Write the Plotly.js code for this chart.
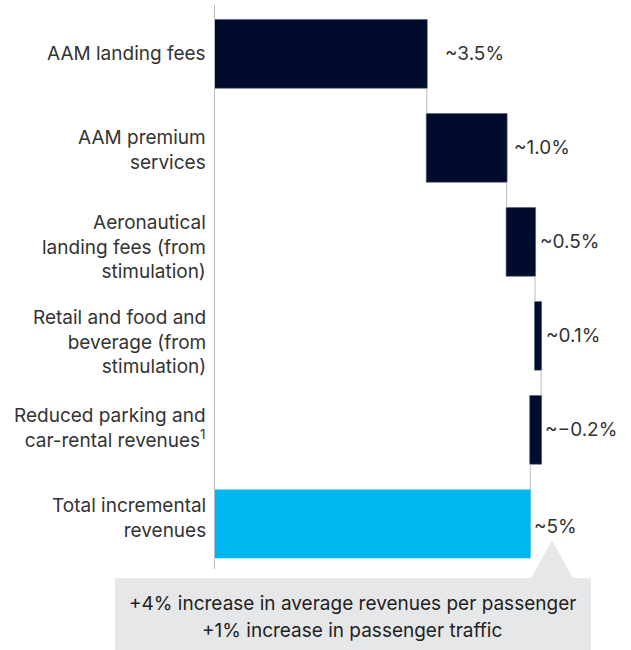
<!DOCTYPE html>
<html>
<head>
<meta charset="utf-8">
<script src="https://cdn.plot.ly/plotly-3.0.1.min.js"></script>
<style>
  html, body { margin: 0; padding: 0; background: #ffffff; }
  #chart { width: 631px; height: 650px; }
</style>
</head>
<body>
<div id="chart"></div>
<script>
// ---- data ----
const categories = [
  "AAM landing fees",
  "AAM premium<br>services",
  "Aeronautical<br>landing fees (from<br>stimulation)",
  "Retail and food and<br>beverage (from<br>stimulation)",
  "Reduced parking and<br>car-rental revenues<sup>1</sup>",
  "Total incremental<br>revenues"
];
const measures = ["relative", "relative", "relative", "relative", "relative", "total"];
const values = [3.5, 1.32, 0.47, 0.1, -0.18, 0];
const valueLabels = ["~3.5%", "~1.0%", "~0.5%", "~0.1%", "~\u22120.2%", "~5%"];
const calloutLines = [
  "+4% increase in average revenues per passenger",
  "+1% increase in passenger traffic"
];

// ---- styles ----
const FONT = "Inter, 'Liberation Sans', Arial, sans-serif";
const TEXT = "#333333";
const NAVY = "#000b2e";
const CYAN = "#00b6ee";
const labelGap = [16, 5, 3, 3, 2, 2];
const catShift = [0, -2, -5, -6, 2, 6];

// running ends for label placement
let run = 0;
const ends = values.map((v, i) => {
  if (measures[i] === "total") return run;
  const prev = run;
  run += v;
  return Math.max(prev, run);
});

const trace = {
  type: "waterfall",
  orientation: "h",
  y: categories,
  x: values,
  measure: measures,
  width: 0.73,
  increasing: { marker: { color: NAVY, line: { color: "#4b5a6b", width: 0.6 } } },
  decreasing: { marker: { color: NAVY, line: { color: "#4b5a6b", width: 0.6 } } },
  totals: { marker: { color: CYAN, line: { color: CYAN, width: 0 } } },
  connector: { mode: "between", line: { color: "#b9bcc0", width: 1 } },
  textinfo: "none",
  hoverinfo: "skip"
};

const annotations = valueLabels.map((t, i) => ({
  x: ends[i], y: categories[i], xref: "x", yref: "y",
  text: t, showarrow: false, xanchor: "left", yanchor: "middle",
  xshift: labelGap[i], yshift: i === 5 ? -3 : 0,
  font: { family: FONT, size: 19, color: TEXT }
}));

categories.forEach((c, i) => {
  annotations.push({
    x: 0, y: c, xref: "paper", yref: "y",
    text: c, showarrow: false, xanchor: "right", yanchor: "middle",
    align: "right", xshift: -7, yshift: catShift[i],
    font: { family: FONT, size: 19, color: TEXT }
  });
});

const px = (p) => (p - 215) / 363;        // page x -> paper x
const py = (p) => (569 - p) / 564;        // page y -> paper y

const calloutY = [603, 630];
calloutLines.forEach((line, i) => {
  annotations.push({
    xref: "paper", yref: "paper",
    x: px(352), y: py(calloutY[i]),
    xanchor: "center", yanchor: "middle",
    text: line, showarrow: false,
    font: { family: FONT, size: 19, color: "#222222" }
  });
});

const shapes = [
  { type: "rect", xref: "paper", yref: "paper", layer: "below",
    x0: px(115), x1: px(591), y0: py(651), y1: py(578),
    fillcolor: "#e6e7e8", line: { width: 0 } },
  { type: "path", xref: "paper", yref: "paper", layer: "below",
    path: `M ${px(531)} ${py(578.5)} L ${px(552)} ${py(540)} L ${px(573)} ${py(578.5)} Z`,
    fillcolor: "#e6e7e8", line: { width: 0 } }
];

const layout = {
  width: 631, height: 650,
  margin: { l: 215, r: 53, t: 5, b: 81 },
  paper_bgcolor: "#ffffff", plot_bgcolor: "#ffffff",
  showlegend: false,
  font: { family: FONT, size: 19, color: TEXT },
  xaxis: {
    range: [0, 6], showgrid: false, zeroline: false, showticklabels: false,
    ticks: "", showline: false, fixedrange: true
  },
  yaxis: {
    type: "category", range: [5.48, -0.52], showgrid: false, zeroline: false,
    showline: true, linecolor: "#b9bcc0", linewidth: 1, ticks: "",
    showticklabels: false, fixedrange: true
  },
  shapes: shapes,
  annotations: annotations
};

Plotly.newPlot("chart", [trace], layout, { displayModeBar: false, staticPlot: true });
</script>
</body>
</html>
